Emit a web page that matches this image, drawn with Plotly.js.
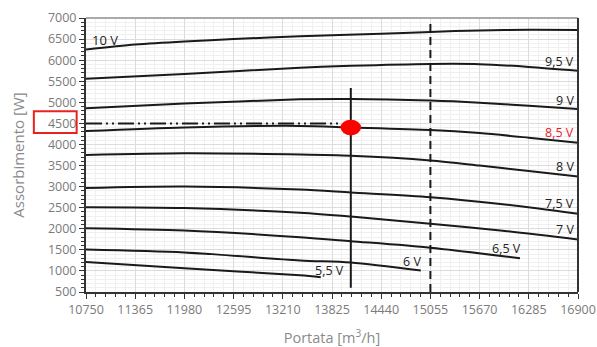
<!DOCTYPE html>
<html><head><meta charset="utf-8">
<script src="https://cdn.plot.ly/plotly-3.0.1.min.js"></script>
<style>html,body{margin:0;padding:0;background:#fff}#chart{width:597px;height:347px}</style>
</head><body><div id="chart"></div>
<script>
// Flow ticks
const flowTicks = [10750, 11365, 11980, 12595, 13210, 13825, 14440, 15055, 15670, 16285, 16900];
// Curves: flow (m3/h) and power (W) per voltage
const v10_x = [10750, 11365, 11980, 12595, 13425, 14440, 15055, 15670, 16285, 16900];
const v10_y = [6250, 6370, 6445, 6500, 6565, 6625, 6670, 6705, 6720, 6715];
const v95_x = [10750, 11980, 13425, 14060, 15055, 15670, 16285, 16900];
const v95_y = [5560, 5670, 5820, 5865, 5910, 5905, 5840, 5750];
const v9_x = [10750, 11980, 13425, 14060, 15055, 15670, 16285, 16900];
const v9_y = [4860, 4970, 5070, 5080, 5040, 4990, 4920, 4840];
const v85_x = [10750, 11980, 13425, 14060, 15055, 15670, 16285, 16900];
const v85_y = [4320, 4405, 4440, 4405, 4345, 4270, 4160, 4040];
const v8_x = [10750, 11980, 13425, 14060, 15055, 15670, 16285, 16900];
const v8_y = [3750, 3790, 3760, 3730, 3620, 3500, 3370, 3240];
const v75_x = [10750, 11980, 13425, 14060, 15055, 15930, 16900];
const v75_y = [2965, 3000, 2930, 2860, 2750, 2590, 2355];
const v7_x = [10750, 11980, 13425, 14060, 15055, 15930, 16900];
const v7_y = [2510, 2490, 2380, 2290, 2120, 1960, 1745];
const v65_x = [10750, 11980, 13425, 14060, 15055, 16175];
const v65_y = [2015, 1960, 1800, 1705, 1550, 1300];
const v6_x = [10750, 11980, 13425, 14060, 14935];
const v6_y = [1510, 1440, 1250, 1200, 1010];
const v55_x = [10750, 11980, 13425, 13685];
const v55_y = [1210, 1065, 895, 850];
const curveLabels = ["10 V", "9,5 V", "9 V", "8,5 V", "8 V", "7,5 V", "7 V", "6,5 V", "6 V", "5,5 V"];
// Operating point
const opFlow = 14060;
const opPower = 4400;
const opReadPower = 4500;
const refFlow = 15055;

const xs = [v10_x, v95_x, v9_x, v85_x, v8_x, v75_x, v7_x, v65_x, v6_x, v55_x];
const ys = [v10_y, v95_y, v9_y, v85_y, v8_y, v75_y, v7_y, v65_y, v6_y, v55_y];

const traces = xs.map((x, i) => ({
  x: x, y: ys[i], mode: 'lines', type: 'scatter', hoverinfo: 'skip',
  line: {color: '#1a1a1a', width: 2, shape: 'spline', smoothing: 0.8}, showlegend: false
}));
// vertical solid line at operating flow
traces.push({x: [opFlow, opFlow], y: [600, 5340], mode: 'lines', line: {color: '#1a1a1a', width: 2}, showlegend: false});
// dashed line at reference flow
traces.push({x: [refFlow, refFlow], y: [500, 7000], mode: 'lines', line: {color: '#1a1a1a', width: 2, dash: '8px,5px'}, showlegend: false});
// dash-dot horizontal at read power
traces.push({x: [10750, opFlow - 130], y: [opReadPower, opReadPower], mode: 'lines', line: {color: '#1a1a1a', width: 2, dash: '16px,4px,2px,4px,2px,4px'}, showlegend: false});

const lblPos = [
  {x: 10800, y: 6470, xa: 'left'},
  {x: 16880, y: 5975, xa: 'right'},
  {x: 16880, y: 5040, xa: 'right'},
  {x: 16880, y: 4290, xa: 'right'},
  {x: 16880, y: 3476, xa: 'right'},
  {x: 16880, y: 2592, xa: 'right'},
  {x: 16880, y: 1976, xa: 'right'},
  {x: 16012, y: 1540, xa: 'center'},
  {x: 14821, y: 1224, xa: 'center'},
  {x: 13791, y: 1004, xa: 'center'}
];
const annotations = curveLabels.map((t, i) => ({
  x: lblPos[i].x, y: lblPos[i].y, xref: 'x', yref: 'y', text: t, showarrow: false,
  xanchor: lblPos[i].xa, yanchor: 'middle',
  font: {family: 'Open Sans, sans-serif', size: i === 0 ? 13 : 12.5, color: i === 3 ? '#e8231f' : '#222'}
}));

const shapes = [
  {type: 'circle', xref: 'x', yref: 'y', x0: opFlow - 128, x1: opFlow + 128, y0: opPower - 185, y1: opPower + 185,
   fillcolor: '#ff0000', line: {color: '#ff0000', width: 0}},
  {type: 'rect', xref: 'paper', yref: 'y', x0: -0.106, x1: -0.019, y0: 4270, y1: 4790,
   line: {color: '#e8231f', width: 2}, fillcolor: 'rgba(0,0,0,0)'},
  {type: 'line', xref: 'paper', yref: 'paper', x0: 0, x1: 1, y0: 1, y1: 1, line: {color: '#aaa', width: 2}}
];

const tickFont = {family: 'Open Sans, sans-serif', size: 12.5, color: '#7a7a7a'};
const layout = {
  width: 597, height: 347,
  margin: {l: 86, r: 19, t: 18, b: 55},
  paper_bgcolor: '#fff', plot_bgcolor: '#fff',
  showlegend: false,
  xaxis: {
    range: [10750, 16900], tickvals: flowTicks, ticktext: flowTicks.map(String),
    tickfont: tickFont, ticks: 'outside', ticklen: 5, tickcolor: '#333', tickwidth: 1,
    showline: true, linecolor: '#333', linewidth: 2, mirror: false,
    showgrid: true, gridcolor: '#dcdcdc', gridwidth: 1, zeroline: false,
    minor: {tick0: 10750, dtick: 123, ticks: 'outside', ticklen: 3, tickcolor: '#333', showgrid: true, gridcolor: '#f0f0f0', gridwidth: 1},
    title: {text: 'Portata [m<sup>3</sup>/h]', font: {family: 'Open Sans, sans-serif', size: 14.5, color: '#8a8a8a'}, standoff: 24},
    fixedrange: true
  },
  yaxis: {
    range: [500, 7000], tick0: 500, dtick: 500,
    tickfont: tickFont, ticks: 'outside', ticklen: 5, tickcolor: '#333', tickwidth: 1,
    showline: true, linecolor: '#333', linewidth: 2,
    showgrid: true, gridcolor: '#dcdcdc', gridwidth: 1, zeroline: false,
    minor: {dtick: 100, ticks: 'outside', ticklen: 3, tickcolor: '#333', showgrid: true, gridcolor: '#f0f0f0', gridwidth: 1},
    title: {text: 'Assorbimento [W]', font: {family: 'Open Sans, sans-serif', size: 15, color: '#8a8a8a'}, standoff: 20},
    fixedrange: true
  },
  annotations: annotations,
  shapes: shapes
};
// right border
layout.shapes.push({type: 'line', xref: 'paper', yref: 'paper', x0: 1, x1: 1, y0: 0, y1: 1, line: {color: '#333', width: 2}});

Plotly.newPlot('chart', traces, layout, {displayModeBar: false, staticPlot: true});
</script></body></html>
